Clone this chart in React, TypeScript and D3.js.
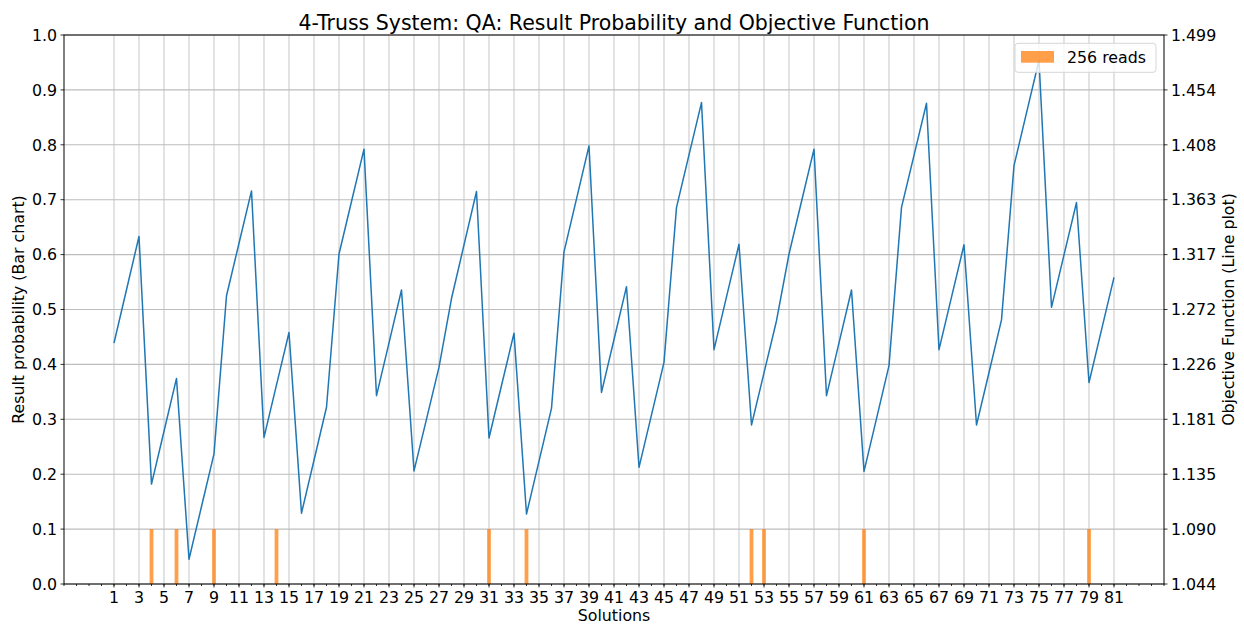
import React from "react";
import * as d3 from "d3";

const title = "4-Truss System: QA: Result Probability and Objective Function";
const xLabel = "Solutions";
const yLeftLabel = "Result probability (Bar chart)";
const yRightLabel = "Objective Function (Line plot)";
const legendLabel = "256 reads";

// Objective function value per solution (1..81), line plot on right axis
const objective: number[] = [
  1.2437, 1.2879, 1.3320,
  1.1268, 1.1706, 1.2144,
  1.0645, 1.1082, 1.1518,
  1.2829, 1.3264, 1.3698,
  1.1655, 1.2090, 1.2524,
  1.1027, 1.1466, 1.1905,
  1.3175, 1.3610, 1.4044,
  1.2001, 1.2439, 1.2877,
  1.1377, 1.1807, 1.2237,
  1.2806, 1.3250, 1.3693,
  1.1650, 1.2085, 1.2519,
  1.1020, 1.1458, 1.1896,
  1.3193, 1.3632, 1.4071,
  1.2028, 1.2466, 1.2904,
  1.1407, 1.1842, 1.2277,
  1.3561, 1.3996, 1.4430,
  1.2382, 1.2819, 1.3256,
  1.1758, 1.2190, 1.2622,
  1.3175, 1.3610, 1.4044,
  1.2001, 1.2439, 1.2877,
  1.1373, 1.1811, 1.2250,
  1.3561, 1.3992, 1.4424,
  1.2382, 1.2817, 1.3252,
  1.1758, 1.2193, 1.2629,
  1.3907, 1.4344, 1.4781,
  1.2733, 1.3168, 1.3602,
  1.2110, 1.2546, 1.2981,
];

// Bars: solutions found and their probability
const barSolutions: number[] = [4, 6, 9, 14, 31, 34, 52, 53, 61, 79];
const barProbs: number[] = [0.1, 0.1, 0.1, 0.1, 0.1, 0.1, 0.1, 0.1, 0.1, 0.1];

const leftTicks: number[] = [0, 0.1, 0.2, 0.3, 0.4, 0.5, 0.6, 0.7, 0.8, 0.9, 1.0];
const rightTickLabels: string[] = ["1.044", "1.090", "1.135", "1.181", "1.226", "1.272", "1.317", "1.363", "1.408", "1.454", "1.499"];
const rightDomain: [number, number] = [1.044, 1.499];
const xDomain: [number, number] = [-3, 85];
const xMajorTicks: number[] = d3.range(1, 82, 2);
const xMinorTicks: number[] = d3.range(-3, 86, 1);

const W = 1244, H = 625;
const L = 64, R = 1164, T = 35, B = 584;
const FONT = "DejaVu Sans, sans-serif";
const FS = 15.8;

export default function App() {
  const x = d3.scaleLinear().domain(xDomain).range([L, R]);
  const yL = d3.scaleLinear().domain([0, 1]).range([B, T]);
  const yR = d3.scaleLinear().domain(rightDomain).range([B, T]);
  const rightTicks = d3.range(11).map((i) => rightDomain[0] + (i * (rightDomain[1] - rightDomain[0])) / 10);
  const line = d3
    .line<number>()
    .x((_, i) => x(i + 1))
    .y((d) => yR(d));
  const barW = x(0.3) - x(0);

  return (
    <svg width={W} height={H} style={{ position: "absolute", left: 0, top: 0, background: "#fff" }} fontFamily={FONT}>
      <rect x={0} y={0} width={W} height={H} fill="#fff" />
      {/* grid */}
      {xMajorTicks.map((t) => (
        <line key={"gx" + t} x1={x(t)} x2={x(t)} y1={T} y2={B} stroke="#cbcbcb" strokeWidth={1.1} />
      ))}
      {leftTicks.map((t) => (
        <line key={"gy" + t} x1={L} x2={R} y1={yL(t)} y2={yL(t)} stroke="#bdbdbd" strokeWidth={1.1} />
      ))}
      {/* bars */}
      {barSolutions.map((s, i) => (
        <rect key={"b" + s} x={x(s) - barW / 2} y={yL(barProbs[i])} width={barW} height={B - yL(barProbs[i])} fill="#ff7f0e" fillOpacity={0.75} />
      ))}
      {/* line */}
      <path d={line(objective) || ""} fill="none" stroke="#1f77b4" strokeWidth={1.5} strokeLinejoin="round" />
      {/* spines */}
      <rect x={L} y={T} width={R - L} height={B - T} fill="none" stroke="#000" strokeWidth={1} />
      {/* x ticks */}
      {xMinorTicks.map((t) => (
        <line key={"mx" + t} x1={x(t)} x2={x(t)} y1={B} y2={B + 2} stroke="#000" strokeWidth={0.8} />
      ))}
      {xMajorTicks.map((t) => (
        <g key={"tx" + t}>
          <line x1={x(t)} x2={x(t)} y1={B} y2={B + 3.5} stroke="#000" strokeWidth={0.8} />
          <text x={x(t)} y={B + 19} textAnchor="middle" fontSize={FS} fill="#000">{t}</text>
        </g>
      ))}
      {/* left ticks */}
      {leftTicks.map((t) => (
        <g key={"ty" + t}>
          <line x1={L - 3.5} x2={L} y1={yL(t)} y2={yL(t)} stroke="#000" strokeWidth={0.8} />
          <text x={L - 7} y={yL(t) + 5.7} textAnchor="end" fontSize={FS} fill="#000">{t.toFixed(1)}</text>
        </g>
      ))}
      {/* right ticks */}
      {rightTicks.map((t, i) => (
        <g key={"tr" + i}>
          <line x1={R} x2={R + 3.5} y1={yR(t)} y2={yR(t)} stroke="#000" strokeWidth={0.8} />
          <text x={R + 7} y={yR(t) + 5.7} textAnchor="start" fontSize={FS} fill="#000">{rightTickLabels[i]}</text>
        </g>
      ))}
      {/* labels */}
      <text x={(L + R) / 2} y={29.5} textAnchor="middle" fontSize={20.5} fill="#000">{title}</text>
      <text x={(L + R) / 2} y={621} textAnchor="middle" fontSize={FS} fill="#000">{xLabel}</text>
      <text transform={`translate(23.5,${(T + B) / 2}) rotate(-90)`} textAnchor="middle" fontSize={FS} fill="#000">{yLeftLabel}</text>
      <text transform={`translate(1234,${(T + B) / 2}) rotate(-90)`} textAnchor="middle" fontSize={FS} fill="#000">{yRightLabel}</text>
      {/* legend */}
      <g>
        <rect x={1015} y={43.3} width={141} height={29} rx={3} fill="#fff" fillOpacity={0.8} stroke="#d6d6d6" strokeWidth={1} />
        <rect x={1021} y={51} width={33} height={11.7} fill="#ff7f0e" fillOpacity={0.75} />
        <text x={1067} y={62.7} fontSize={FS} fill="#000">{legendLabel}</text>
      </g>
    </svg>
  );
}
